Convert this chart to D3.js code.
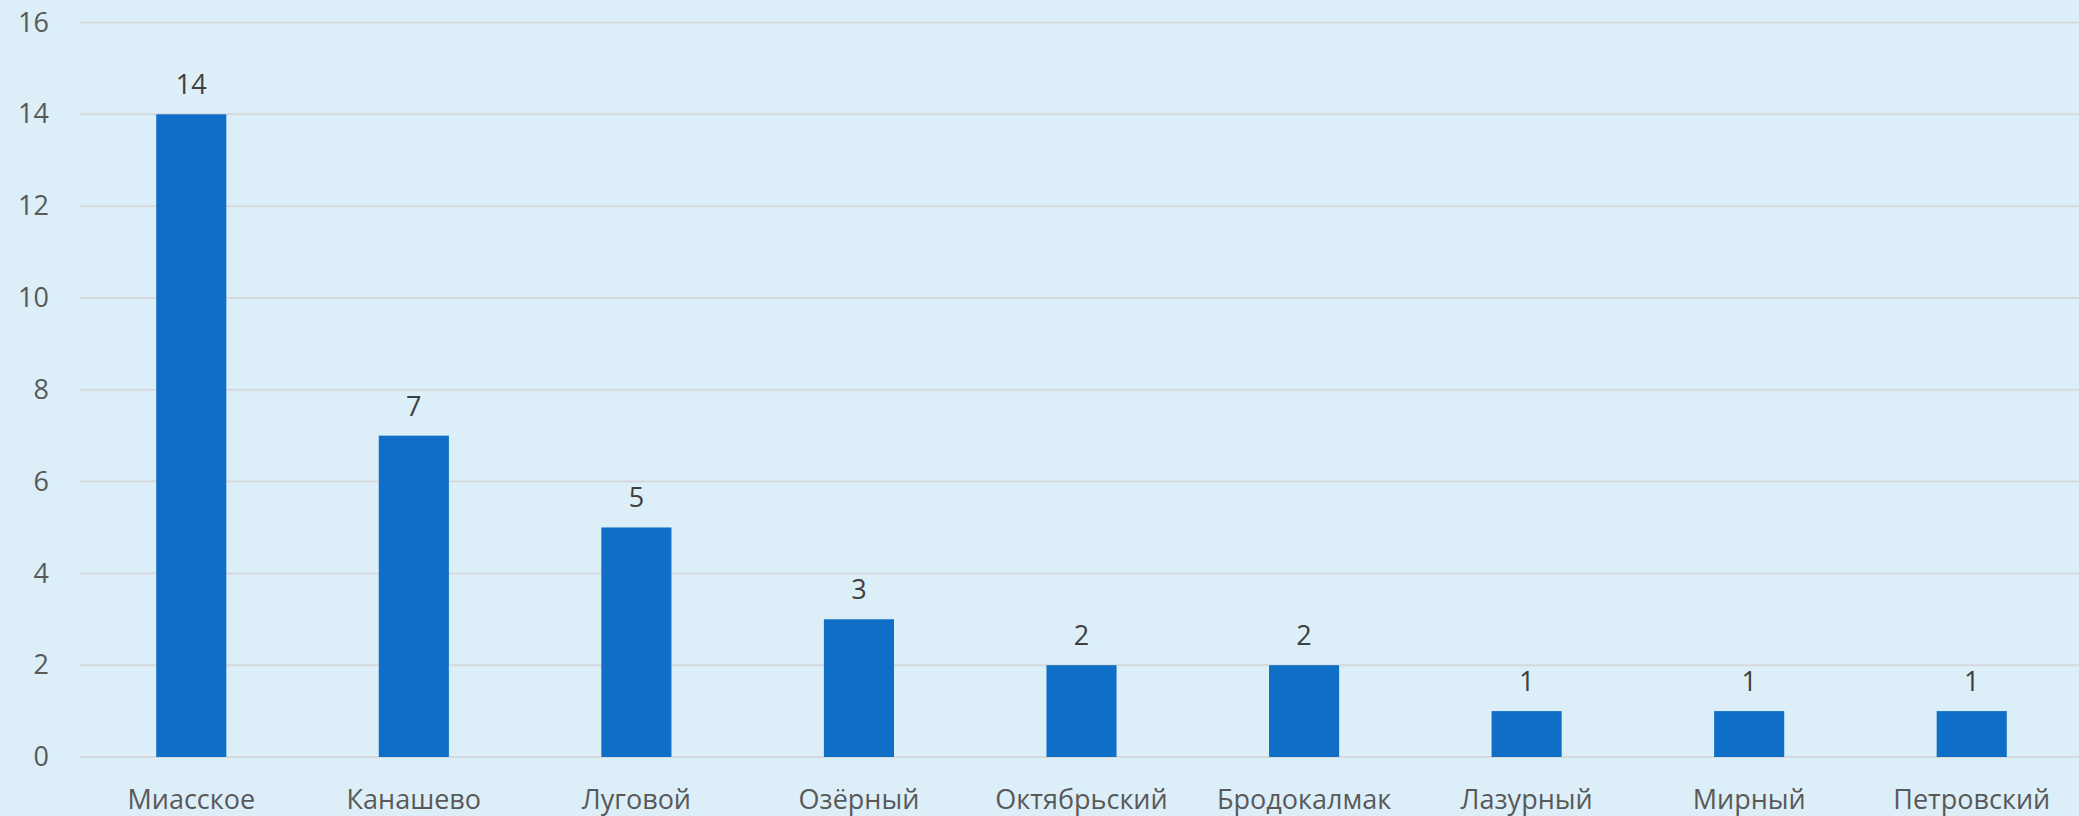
<!DOCTYPE html>
<html>
<head>
<meta charset="utf-8">
<script src="https://cdn.jsdelivr.net/npm/d3@7"></script>
<style>
  html, body { margin: 0; padding: 0; background: #DCEEF8; }
  svg { display: block; font-family: "Open Sans", "Noto Sans", sans-serif; }
</style>
</head>
<body>
<svg id="chart" width="2079" height="816"></svg>
<script>
// data
var categories = ["Миасское", "Канашево", "Луговой", "Озёрный", "Октябрьский", "Бродокалмак", "Лазурный", "Мирный", "Петровский"];
var values = [14, 7, 5, 3, 2, 2, 1, 1, 1];
var yTicks = [0, 2, 4, 6, 8, 10, 12, 14, 16];

var w = 2079, h = 816;
var plotLeft = 80, plotRight = 2083, plotTop = 22.5, plotBottom = 757;
var fontSize = "27px";

var svg = d3.select("#chart");
svg.append("rect").attr("width", w).attr("height", h).attr("fill", "#DCEEF8");

var x = d3.scaleBand()
    .domain(categories)
    .range([plotLeft, plotRight])
    .paddingInner(0.685)
    .paddingOuter(0.3425);

var y = d3.scaleLinear().domain([0, 16]).range([plotBottom, plotTop]);

// gridlines
svg.append("g")
    .selectAll("line")
    .data(yTicks)
    .enter()
    .append("line")
    .attr("x1", plotLeft)
    .attr("x2", w)
    .attr("y1", d => y(d))
    .attr("y2", d => y(d))
    .attr("stroke", "#D6D9DC")
    .attr("stroke-width", 2);

// y axis labels
var yAxis = d3.axisLeft(y).tickValues(yTicks).tickSize(0).tickPadding(0);
var gy = svg.append("g").attr("transform", "translate(49,0)").call(yAxis);
gy.select(".domain").remove();
gy.selectAll("text")
    .attr("fill", "#595959")
    .style("font-size", fontSize)
    .style("font-family", "'Open Sans', sans-serif");

// bars
svg.append("g")
    .selectAll("rect")
    .data(values)
    .enter()
    .append("rect")
    .attr("x", (d, i) => x(categories[i]))
    .attr("y", d => y(d))
    .attr("width", x.bandwidth())
    .attr("height", d => y(0) - y(d))
    .attr("fill", "#0F6FC6");

// value labels
svg.append("g")
    .selectAll("text")
    .data(values)
    .enter()
    .append("text")
    .attr("x", (d, i) => x(categories[i]) + x.bandwidth() / 2)
    .attr("y", d => y(d) - 20)
    .attr("text-anchor", "middle")
    .attr("fill", "#404040")
    .style("font-size", fontSize)
    .text(d => d);

// x axis labels
var xAxis = d3.axisBottom(x).tickSize(0).tickPadding(0);
var gx = svg.append("g").attr("transform", "translate(0," + plotBottom + ")").call(xAxis);
gx.select(".domain").remove();
gx.selectAll("text")
    .attr("dy", null)
    .attr("y", 52)
    .attr("fill", "#595959")
    .style("font-size", fontSize)
    .style("font-family", "'Open Sans', sans-serif");
</script>
</body>
</html>
